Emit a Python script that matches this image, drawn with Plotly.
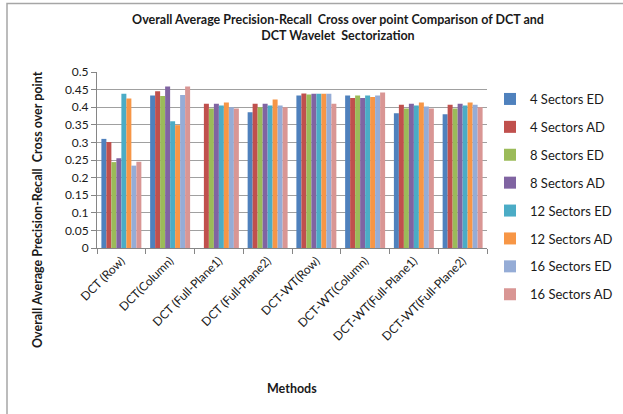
import plotly.graph_objects as go

methods = ["DCT (Row)", "DCT(Column)", "DCT (Full-Plane1)", "DCT (Full-Plane2)",
           "DCT-WT(Row)", "DCT-WT(Column)", "DCT-WT(Full-Plane1)", "DCT-WT(Full-Plane2)"]

s4_ed  = [0.310, 0.433, None,  0.386, 0.433, 0.433, 0.383, 0.380]
s4_ad  = [0.301, 0.445, 0.410, 0.410, 0.439, 0.426, 0.407, 0.407]
s8_ed  = [0.244, 0.432, 0.396, 0.400, 0.436, 0.433, 0.396, 0.396]
s8_ad  = [0.255, 0.459, 0.410, 0.410, 0.438, 0.426, 0.410, 0.410]
s12_ed = [0.438, 0.360, 0.405, 0.405, 0.438, 0.433, 0.405, 0.405]
s12_ad = [0.425, 0.349, 0.413, 0.422, 0.438, 0.429, 0.413, 0.413]
s16_ed = [0.234, 0.435, 0.400, 0.405, 0.438, 0.433, 0.402, 0.407]
s16_ad = [0.245, 0.459, 0.396, 0.400, 0.410, 0.442, 0.396, 0.400]

series_names = ["4 Sectors ED", "4 Sectors AD", "8 Sectors ED", "8 Sectors AD",
                "12 Sectors ED", "12 Sectors AD", "16 Sectors ED", "16 Sectors AD"]
series_values = [s4_ed, s4_ad, s8_ed, s8_ad, s12_ed, s12_ad, s16_ed, s16_ad]
colors = ["#4F81BD", "#C0504D", "#9BBB59", "#8064A2",
          "#4BACC6", "#F79646", "#95ACD6", "#D99694"]

y_ticks = [0, 0.05, 0.1, 0.15, 0.2, 0.25, 0.3, 0.35, 0.4, 0.45, 0.5]
y_tick_text = ["0", "0.05", "0.1", "0.15", "0.2", "0.25", "0.3", "0.35", "0.4", "0.45", "0.5"]

FONT = "Lato, 'Open Sans', sans-serif"
TXT = "#1a1a1a"

fig = go.Figure()
for name, vals, col in zip(series_names, series_values, colors):
    fig.add_trace(go.Bar(x=methods, y=vals, name=name, marker_color=col,
                         marker_line_width=0, legendgroup=name))

# the page body margin is removed by post_script, so figure px == screen px
W, H = 623, 414
L, R, T, B = 97, 487, 72, 248

def px_x(p):
    return (p - L) / (R - L)

def px_y(p):
    return (B - p) / (B - T)

fig.update_layout(
    width=W, height=H,
    margin=dict(l=L, r=W - R, t=T, b=H - B, autoexpand=False),
    paper_bgcolor="white", plot_bgcolor="white",
    barmode="group", bargap=0.18, bargroupgap=0,
    font=dict(family=FONT, size=11, color=TXT),
    title=dict(text="<b>Overall Average Precision-Recall  Cross over point Comparison of DCT and<br>DCT Wavelet  Sectorization</b>",
               x=338 / W, xref="container", xanchor="center",
               y=1 - 24 / H, yref="container", yanchor="top",
               font=dict(family=FONT, size=12.5, color=TXT)),
    legend=dict(x=px_x(490), y=px_y(84), xanchor="left", yanchor="top",
                font=dict(family=FONT, size=13, color=TXT),
                traceorder="grouped", tracegroupgap=8, maxheight=400,
                itemwidth=30, bgcolor="rgba(0,0,0,0)"),
    showlegend=True,
)
fig.update_yaxes(range=[0, 0.5], tickvals=y_ticks, ticktext=y_tick_text,
                 automargin=False,
                 showgrid=True, gridcolor="#a0a0a0", gridwidth=1,
                 showline=True, linecolor="#868686", linewidth=1,
                 ticks="outside", ticklen=5, tickcolor="#868686",
                 tickfont=dict(family=FONT, size=12, color=TXT), zeroline=False)
fig.update_xaxes(showline=True, linecolor="#868686", linewidth=1,
                 automargin=False,
                 ticks="outside", ticklen=5, tickcolor="#868686",
                 tickson="boundaries", tickangle=-45,
                 tickfont=dict(family=FONT, size=12, color=TXT))

fig.add_annotation(text="<b>Overall Average Precision-Recall  Cross over point</b>",
                   xref="paper", yref="paper", x=px_x(37), y=px_y(210),
                   textangle=-90, showarrow=False, xanchor="center", yanchor="middle",
                   font=dict(family=FONT, size=12.5, color=TXT))
fig.add_annotation(text="<b>Methods</b>", xref="paper", yref="paper",
                   x=px_x(292), y=px_y(388), showarrow=False,
                   xanchor="center", yanchor="middle",
                   font=dict(family=FONT, size=12.5, color=TXT))

# chart-area border (partially visible in the reference)
fig.add_shape(type="path", xref="paper", yref="paper",
              path=f"M {px_x(7)},{px_y(420)} L {px_x(7)},{px_y(3.5)} L {px_x(630)},{px_y(3.5)}",
              line=dict(color="#a6a6a6", width=1.5))

fig.write_html("out.html",
               config={"displayModeBar": False},
               post_script="document.body.style.margin='0';document.body.style.overflow='hidden';")
